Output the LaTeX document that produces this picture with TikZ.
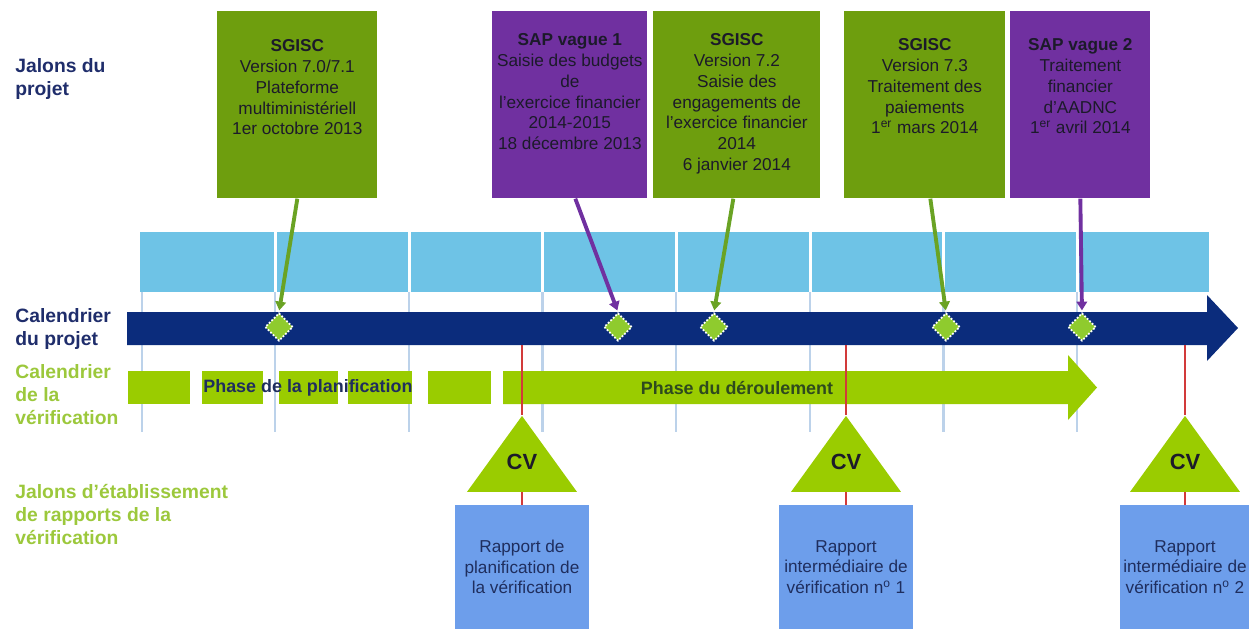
\documentclass[tikz,border=0pt]{standalone}
\usepackage{fontspec}
\setmainfont{Liberation Sans}
\usepackage{tikz}
\usetikzlibrary{shapes,arrows,arrows.meta,positioning}

\definecolor{sgiscgreen}{HTML}{6E9E0E}
\definecolor{sappurple}{HTML}{7030A0}
\definecolor{cellblue}{HTML}{6EC3E6}
\definecolor{navy}{HTML}{0B2C7C}
\definecolor{labelnavy}{HTML}{1F2D6B}
\definecolor{vergreen}{HTML}{9ACC00}
\definecolor{labelgreen}{HTML}{9CC83C}
\definecolor{milegreen}{HTML}{8FCB2E}
\definecolor{reportblue}{HTML}{6D9EEB}
\definecolor{gridblue}{HTML}{BCD2EA}
\definecolor{cvred}{HTML}{D23A3A}
\definecolor{boxink}{HTML}{1C1A2A}
\definecolor{arrowgreen}{HTML}{6AA324}
\definecolor{phasenavy}{HTML}{1F2E5E}
\definecolor{phasegreen}{HTML}{2E4A1E}

\tikzstyle{sgisc} = [rectangle, fill=sgiscgreen, inner sep=0pt, minimum height=3.74cm, anchor=north west]
\tikzstyle{sap} = [rectangle, fill=sappurple, inner sep=0pt, minimum height=3.74cm, anchor=north west]
\tikzstyle{boxtext} = [align=center, inner sep=0pt, text=boxink, font=\fontsize{9.8}{11.8}\selectfont]
\tikzstyle{navylabel} = [align=left, inner sep=0pt, anchor=north west, text=labelnavy, font=\fontsize{11}{13}\selectfont\bfseries]
\tikzstyle{greenlabel} = [align=left, inner sep=0pt, anchor=north west, text=labelgreen, font=\fontsize{11}{13}\selectfont\bfseries]
\tikzstyle{grid} = [draw=gridblue, line width=1.6pt]
\tikzstyle{mile} = [diamond, fill=milegreen, draw=white, densely dotted, line width=1pt, minimum size=0.56cm, inner sep=0pt]
\tikzstyle{pointer} = [draw, line width=2.2pt, -{Triangle[length=5pt, width=6pt]}, shorten >=1pt]
\tikzstyle{phase} = [inner sep=0pt, font=\fontsize{10.2}{12}\selectfont\bfseries]
\tikzstyle{cvtri} = [isosceles triangle, isosceles triangle stretches, shape border rotate=90, minimum width=2.2cm, minimum height=1.52cm, inner sep=0pt, fill=vergreen, anchor=apex]
\tikzstyle{cvtext} = [inner sep=0pt, text=boxink, font=\fontsize{12.5}{14}\selectfont\bfseries]
\tikzstyle{report} = [rectangle, fill=reportblue, align=center, inner sep=0pt, minimum height=2.48cm, text=phasenavy, font=\fontsize{9.8}{11.8}\selectfont]
\tikzstyle{redline} = [draw=cvred, line width=1.6pt]

\begin{document}
\begin{tikzpicture}[x=0.02cm, y=-0.02cm]
	\useasboundingbox (0,0) rectangle (1249,629);

	% row labels
	\node [navylabel] (jalons) at (15,58) {Jalons du\\projet};
	\node [navylabel] (calprojet) at (15,308) {Calendrier\\du projet};
	\node [greenlabel] (calverif) at (15,364) {Calendrier\\de la\\vérification};
	\node [greenlabel] (jalrap) at (15,484) {Jalons d’établissement\\de rapports de la\\vérification};

	% months
	\fill [cellblue] (140,232) rectangle (273.5,292);
	\fill [cellblue] (276.5,232) rectangle (407.5,292);
	\fill [cellblue] (410.5,232) rectangle (541,292);
	\fill [cellblue] (544,232) rectangle (674.5,292);
	\fill [cellblue] (677.5,232) rectangle (808.5,292);
	\fill [cellblue] (811.5,232) rectangle (942,292);
	\fill [cellblue] (945,232) rectangle (1075.5,292);
	\fill [cellblue] (1078.5,232) rectangle (1209,292);
	\path [grid] (142,292) -- (142,432);
	\path [grid] (275,292) -- (275,432);
	\path [grid] (409,292) -- (409,432);
	\path [grid] (542.5,292) -- (542.5,432);
	\path [grid] (676,292) -- (676,432);
	\path [grid] (810,292) -- (810,432);
	\path [grid] (943.5,292) -- (943.5,432);
	\path [grid] (1077,292) -- (1077,432);

	% project calendar
	\fill [navy] (127,312) -- (1207,312) -- (1207,295) -- (1238,328)
		-- (1207,361) -- (1207,345) -- (127,345) -- cycle;

	% verification calendar
	\fill [vergreen] (128,371) rectangle (190,404);
	\fill [vergreen] (202,371) rectangle (263,404);
	\fill [vergreen] (279,371) rectangle (338,404);
	\fill [vergreen] (348,371) rectangle (412,404);
	\fill [vergreen] (428,371) rectangle (491,404);
	\fill [vergreen] (503,371) -- (1068,371) -- (1068,355) -- (1097,387.5)
		-- (1068,420) -- (1068,404) -- (503,404) -- cycle;
	\node [phase, text=phasenavy, anchor=west] (planif) at (203,388) {Phase de la planification};
	\node [phase, text=phasegreen] (deroul) at (737,388) {Phase du déroulement};

	% project milestones
	\node [sgisc, minimum width=3.2cm] (m1) at (217,11) {};
	\node [sap, minimum width=3.1cm] (m2) at (492,11) {};
	\node [sgisc, minimum width=3.34cm] (m3) at (653,11) {};
	\node [sgisc, minimum width=3.22cm] (m4) at (844,11) {};
	\node [sap, minimum width=2.8cm] (m5) at (1010,11) {};

	\node [boxtext, below=0.57cm of m1.north] (t1) {\textbf{SGISC}\\Version 7.0/7.1\\Plateforme\\multiministériell\\1er octobre 2013};
	\node [boxtext, below=0.45cm of m2.north] (t2) {\textbf{SAP vague 1}\\Saisie des budgets\\de\\l’exercice financier\\2014-2015\\18 décembre 2013};
	\node [boxtext, below=0.45cm of m3.north] (t3) {\textbf{SGISC}\\Version 7.2\\Saisie des\\engagements de\\l’exercice financier\\2014\\6 janvier 2014};
	\node [boxtext, below=0.55cm of m4.north] (t4) {\textbf{SGISC}\\Version 7.3\\Traitement des\\paiements\\1\textsuperscript{er} mars 2014};
	\node [boxtext, below=0.55cm of m5.north] (t5) {\textbf{SAP vague 2}\\Traitement\\financier\\d’AADNC\\1\textsuperscript{er} avril 2014};

	\node [mile] (d1) at (279,327) {};
	\node [mile] (d2) at (618,327) {};
	\node [mile] (d3) at (714,327) {};
	\node [mile] (d4) at (946,327) {};
	\node [mile] (d5) at (1082,327) {};

	\path [pointer, draw=arrowgreen] (m1.south) -- (d1.north);
	\path [pointer, draw=sappurple] ([xshift=0.11cm]m2.south) -- (d2.north);
	\path [pointer, draw=arrowgreen] ([xshift=-0.07cm]m3.south) -- (d3.north);
	\path [pointer, draw=arrowgreen] ([xshift=0.11cm]m4.south) -- (d4.north);
	\path [pointer, draw=sappurple] (m5.south) -- (d5.north);

	% reporting milestones
	\node [cvtri] (cv1) at (522,415) {};
	\node [cvtri] (cv2) at (846,415) {};
	\node [cvtri] (cv3) at (1185,415) {};
	\node [cvtext] (cvt1) at (522,462) {CV};
	\node [cvtext] (cvt2) at (846,462) {CV};
	\node [cvtext] (cvt3) at (1185,462) {CV};

	\node [report, minimum width=2.68cm] (rep1) at (522,567) {Rapport de\\planification de\\la vérification};
	\node [report, minimum width=2.68cm] (rep2) at (846,567) {Rapport\\intermédiaire de\\vérification n\textsuperscript{o} 1};
	\node [report, minimum width=2.62cm] (rep3) at (1185,567) {Rapport\\intermédiaire de\\vérification n\textsuperscript{o} 2};

	\coordinate (r1) at (522,345);
	\coordinate (r2) at (846,345);
	\coordinate (r3) at (1185,345);
	\path [redline] (r1) -- (cv1.apex);
	\path [redline] (r2) -- (cv2.apex);
	\path [redline] (r3) -- (cv3.apex);
	\path [redline] (cv1.lower side) -- (rep1.north);
	\path [redline] (cv2.lower side) -- (rep2.north);
	\path [redline] (cv3.lower side) -- (rep3.north);
\end{tikzpicture}
\end{document}
